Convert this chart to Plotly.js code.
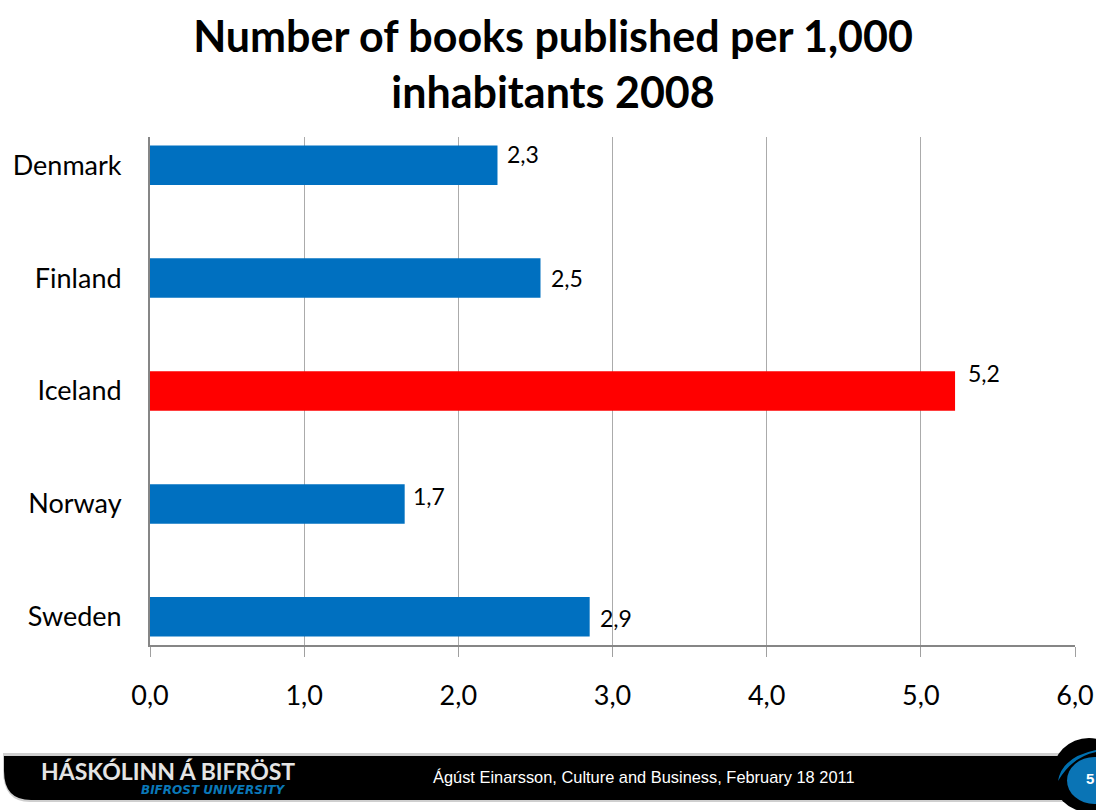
<!DOCTYPE html>
<html>
<head>
<meta charset="utf-8">
<script src="https://cdn.plot.ly/plotly-3.0.1.min.js"></script>
<style>html,body{margin:0;padding:0;background:#fff}#chart{width:1096px;height:810px}</style>
</head>
<body>
<div id="chart"></div>
<script>
// Books published per 1,000 inhabitants, 2008
const countries = ['Denmark', 'Finland', 'Iceland', 'Norway', 'Sweden'];
const booksPerThousand = [2.254, 2.533, 5.222, 1.652, 2.852];
const barColors = ['#0070C0', '#0070C0', '#FF0000', '#0070C0', '#0070C0'];
const xTicks = [0, 1, 2, 3, 4, 5, 6];

// Hand-placed value label offsets, in pixels from each bar end
const labelShiftX = [26, 26, 29, 24, 26];
const labelShiftY = [11, 0, 18, 8, -1];

const W = 1096, H = 810;
const L = 150, R = 1075, T = 137, B = 645;
const fx = p => (p - L) / (R - L);
const fy = p => (B - p) / (B - T);
const P = (x, y) => fx(x).toFixed(5) + ',' + fy(y).toFixed(5);

const shapes = [
  // footer band with rounded lower-left corner
  {type: 'path', xref: 'paper', yref: 'paper', layer: 'above', line: {width: 0}, fillcolor: '#cfcfcf',
   path: `M ${P(3, 753)} L ${P(1070, 753)} L ${P(1070, 802)} L ${P(30, 802)} Q ${P(3, 802)} ${P(3, 770)} Z`},
  {type: 'path', xref: 'paper', yref: 'paper', layer: 'above', line: {width: 0}, fillcolor: '#000000',
   path: `M ${P(4, 756)} L ${P(1075, 756)} L ${P(1075, 800)} L ${P(31, 800)} Q ${P(4, 800)} ${P(4, 771)} Z`},
  // round page badge
  {type: 'circle', xref: 'paper', yref: 'paper', layer: 'above', line: {width: 0}, fillcolor: '#000000',
   x0: fx(1052), x1: fx(1126), y0: fy(738), y1: fy(812)},
  {type: 'path', xref: 'paper', yref: 'paper', layer: 'above', line: {width: 0}, fillcolor: '#0070B0',
   path: `M ${P(1058, 781)} Q ${P(1062, 757)} ${P(1096, 750)} L ${P(1096, 752)} Q ${P(1072, 757)} ${P(1058, 781)} Z`},
  {type: 'circle', xref: 'paper', yref: 'paper', layer: 'above', line: {width: 0}, fillcolor: '#0A74B5',
   x0: fx(1067), x1: fx(1122), y0: fy(757), y1: fy(804)}
];

const annotations = countries.map((c, i) => ({
  x: booksPerThousand[i], y: c, xref: 'x', yref: 'y',
  text: booksPerThousand[i].toFixed(1).replace('.', ','),
  showarrow: false, xanchor: 'center', yanchor: 'middle',
  xshift: labelShiftX[i], yshift: labelShiftY[i],
  font: {family: 'Lato, sans-serif', size: 23, color: '#000'}
}));

const paperText = (text, x, y, size, color, family) => ({
  text, x: fx(x), y: fy(y), xref: 'paper', yref: 'paper', showarrow: false,
  xanchor: 'left', yanchor: 'middle', font: {family, size, color}
});

annotations.push(
  paperText('<b>HÁSKÓLINN Á BIFRÖST</b>', 39, 771, 23, '#e4e4e4', 'Lato, sans-serif'),
  paperText('<b><i>BIFROST UNIVERSITY</i></b>', 139, 790, 12, '#0A78B8', 'DejaVu Sans, sans-serif'),
  paperText('Ágúst Einarsson, Culture and Business, February 18 2011', 431, 777, 16.4, '#ffffff', 'Liberation Sans, sans-serif'),
  paperText('<b>5</b>', 1084, 778, 15, '#ffffff', 'Liberation Sans, sans-serif')
);

const trace = {
  type: 'bar', orientation: 'h',
  x: booksPerThousand, y: countries,
  width: 0.35,
  marker: {color: barColors, line: {width: 0}},
  hoverinfo: 'x+y'
};

const layout = {
  width: W, height: H,
  margin: {l: L, r: W - R, t: T, b: H - B, pad: 0},
  paper_bgcolor: '#fff', plot_bgcolor: '#fff',
  separators: ',.',
  showlegend: false,
  title: {
    text: '<b>Number of books published per 1,000<br>inhabitants 2008</b>',
    font: {family: 'Lato, sans-serif', size: 43, color: '#000'},
    x: 553 / W, xanchor: 'center', y: 0.936, yanchor: 'top'
  },
  xaxis: {
    range: [0, 6], tickvals: xTicks, tickformat: '.1f',
    showgrid: true, gridcolor: '#ababab', gridwidth: 1,
    zeroline: false, showline: true, linecolor: '#868686', linewidth: 2,
    ticks: 'outside', ticklen: 10, tickcolor: '#a0a0a0', tickwidth: 1,
    ticklabelstandoff: 16,
    tickfont: {family: 'Lato, sans-serif', size: 27, color: '#000'}
  },
  yaxis: {
    type: 'category', categoryorder: 'array', categoryarray: countries,
    autorange: false, range: [4.25, -0.25],
    showgrid: false, zeroline: false, showline: true, linecolor: '#868686', linewidth: 2,
    ticks: 'outside', ticklen: 21, tickcolor: 'rgba(0,0,0,0)',
    tickfont: {family: 'Lato, sans-serif', size: 27, color: '#000'}
  },
  shapes, annotations
};

Plotly.newPlot('chart', [trace], layout, {displayModeBar: false, responsive: false});
</script>
</body>
</html>
